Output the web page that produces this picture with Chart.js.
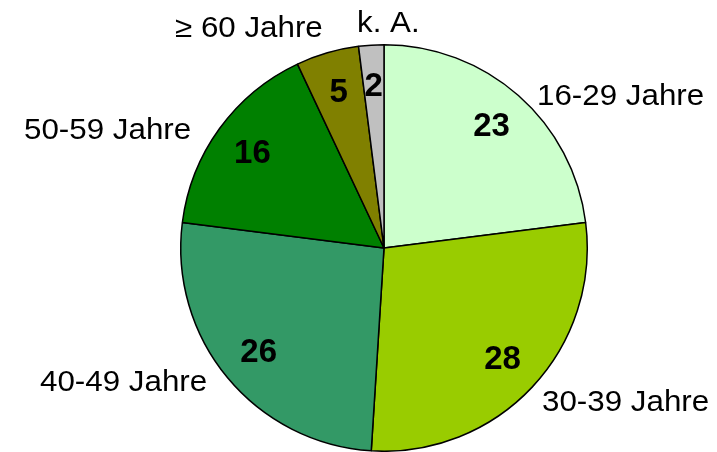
<!DOCTYPE html>
<html>
<head>
<meta charset="utf-8">
<script src="https://cdn.jsdelivr.net/npm/chart.js@4.4.1/dist/chart.umd.min.js"></script>
<style>
  body { margin: 0; background: #fff; }
  canvas { display: block; }
</style>
</head>
<body>
<canvas id="pieChart" width="717" height="452"></canvas>
<script>
// Altersgruppen
const categories = ["16-29 Jahre", "30-39 Jahre", "40-49 Jahre", "50-59 Jahre", "\u2265 60 Jahre", "k. A."];
const values = [23, 28, 26, 16, 5, 2];
const colors = ["#CCFFCC", "#99CC00", "#339966", "#008000", "#808000", "#C0C0C0"];

// where the category names sit (left x, baseline y)
const labelAnchors = [[537, 105], [542, 411], [40, 391], [24, 139], [175, 37], [357, 32]];

const labelPlugin = {
  id: "pieLabels",
  afterDatasetsDraw(chart) {
    const ctx = chart.ctx;
    const arcs = chart.getDatasetMeta(0).data;
    ctx.save();
    ctx.fillStyle = "#000";

    // values inside the slices
    ctx.font = "bold 33px 'Liberation Sans', Arial, sans-serif";
    ctx.textAlign = "center";
    ctx.textBaseline = "middle";
    arcs.forEach((arc, i) => {
      const mid = (arc.startAngle + arc.endAngle) / 2;
      const r = arc.outerRadius * 0.8;
      ctx.fillText(String(values[i]), arc.x + Math.cos(mid) * r, arc.y + Math.sin(mid) * r + 1);
    });

    // category names outside, Excel-ish stretched font
    ctx.font = "29px 'Liberation Sans', Arial, sans-serif";
    ctx.textAlign = "left";
    ctx.textBaseline = "alphabetic";
    categories.forEach((name, i) => {
      const [x, y] = labelAnchors[i];
      ctx.save();
      ctx.translate(x, y);
      ctx.scale(1.08, 1);
      ctx.fillText(name, 0, 0);
      ctx.restore();
    });
    ctx.restore();
  },
};

new Chart(document.getElementById("pieChart"), {
  type: "pie",
  data: {
    labels: categories,
    datasets: [{
      data: values,
      backgroundColor: colors,
      borderColor: "#000",
      borderWidth: 1.5,
    }],
  },
  options: {
    responsive: false,
    animation: false,
    layout: { padding: { left: 180, right: 129, top: 44, bottom: 0 } },
    plugins: {
      legend: { display: false },
      tooltip: { enabled: false },
    },
  },
  plugins: [labelPlugin],
});
</script>
</body>
</html>
